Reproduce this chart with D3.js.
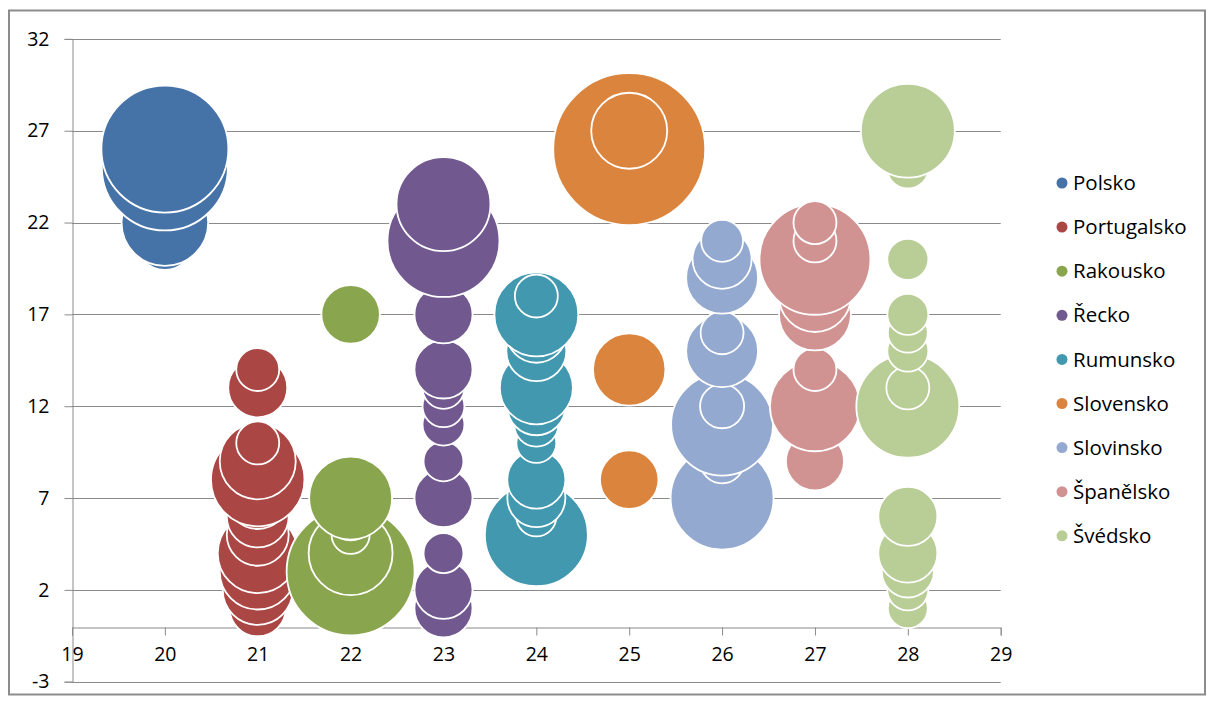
<!DOCTYPE html>
<html>
<head>
<meta charset="utf-8">
<script src="https://cdn.jsdelivr.net/npm/d3@7"></script>
<style>
  html, body { margin: 0; padding: 0; background: #fff; }
  svg { display: block; }
  text { font-family: "Open Sans", "Liberation Sans", sans-serif; fill: #000; }
</style>
</head>
<body>
<svg id="chart" width="1209" height="702"></svg>
<script>
// ---- Data ----
const seriesNames = ["Polsko", "Portugalsko", "Rakousko", "Řecko", "Rumunsko", "Slovensko", "Slovinsko", "Španělsko", "Švédsko"];
const seriesX = [20, 21, 22, 23, 24, 25, 26, 27, 28];

const polskoY = [21, 22, 25, 26];
const polskoSize = [14.6, 32.5, 68.7, 69.8];

const portugalskoY = [1, 2, 3, 4, 5, 6, 7, 8, 9, 10, 13, 14];
const portugalskoSize = [13.6, 21.2, 25.0, 27.7, 16.6, 16.6, 16.6, 37.8, 25.0, 8.0, 15.1, 8.0];

const rakouskoY = [3, 4, 5, 6, 7, 17];
const rakouskoSize = [70.9, 30.5, 6.3, 10.0, 29.8, 14.8];

const reckoY = [1, 2, 4, 7, 9, 11, 12, 13, 14, 17, 21, 23];
const reckoSize = [14.6, 14.6, 6.9, 14.6, 6.9, 7.6, 7.6, 7.6, 14.6, 14.6, 54.3, 38.2];

const rumunskoY = [5, 6, 7, 8, 10, 11, 12, 13, 15, 16, 17, 18];
const rumunskoSize = [45.9, 6.9, 14.6, 14.6, 6.9, 8.4, 14.6, 23.1, 15.6, 15.6, 30.5, 8.0];

const slovenskoY = [8, 14, 26, 27];
const slovenskoSize = [14.8, 22.7, 100, 25.0];

const slovinskoY = [7, 9, 11, 12, 15, 16, 19, 20, 21];
const slovinskoSize = [45.9, 8.4, 45.0, 8.4, 22.4, 8.0, 22.4, 15.1, 7.6];

const spanelskoY = [9, 12, 14, 17, 18, 20, 21, 22];
const spanelskoSize = [14.6, 35.1, 8.0, 22.4, 22.4, 53.3, 8.0, 8.0];

const svedskoY = [1, 2, 3, 4, 6, 12, 13, 15, 16, 17, 20, 25, 27];
const svedskoSize = [6.9, 7.3, 11.7, 15.1, 15.1, 45.9, 8.0, 7.3, 6.9, 7.3, 7.3, 7.6, 38.2];

const xTicks = [19, 20, 21, 22, 23, 24, 25, 26, 27, 28, 29];
const yTicks = [-3, 2, 7, 12, 17, 22, 27, 32];

// ---- Styles ----
const colors = ["#4572A7", "#AA4643", "#89A54E", "#71588F", "#4198AF", "#DB843D", "#93A9CF", "#D19392", "#B9CD96"];
const allY = [polskoY, portugalskoY, rakouskoY, reckoY, rumunskoY, slovenskoY, slovinskoY, spanelskoY, svedskoY];
const allSize = [polskoSize, portugalskoSize, rakouskoSize, reckoSize, rumunskoSize, slovenskoSize, slovinskoSize, spanelskoSize, svedskoSize];

const series = seriesNames.map((name, i) => ({
  name, color: colors[i],
  points: allY[i].map((y, j) => ({ x: seriesX[i], y, size: allSize[i][j] }))
}));

const svg = d3.select("#chart");
const gridColor = "#8a8a8a";
const fmt = d => String(d);

// outer frame
svg.append("rect").attr("x", 9).attr("y", 10.5).attr("width", 1196).attr("height", 684)
  .attr("fill", "none").attr("stroke", "#8c8c8c").attr("stroke-width", 2);

const x = d3.scaleLinear().domain([19, 29]).range([72, 1000.7]);
const y = d3.scaleLinear().domain([-3, 32]).range([681.7, 38.9]);
const r = d3.scaleSqrt().domain([0, 100]).range([0, 76]);

// gridlines
svg.append("g").selectAll("line").data(yTicks).join("line")
  .attr("x1", x(19)).attr("x2", x(29))
  .attr("y1", d => Math.round(y(d)) + 0.5).attr("y2", d => Math.round(y(d)) + 0.5)
  .attr("stroke", gridColor).attr("stroke-width", 1);

// y axis
const yAxis = d3.axisLeft(y).tickValues(yTicks).tickSize(8).tickPadding(15).tickFormat(fmt);
const gy = svg.append("g").attr("transform", `translate(${Math.round(x(19)) + 0.5},0)`).call(yAxis);
gy.select(".domain").attr("stroke", gridColor);
gy.selectAll(".tick line").attr("stroke", gridColor);
gy.selectAll(".tick text").attr("font-size", 19.5).attr("font-family", "'Open Sans', sans-serif").attr("fill", "#000");

// x axis at y = 0
const xAxis = d3.axisBottom(x).tickValues(xTicks).tickSize(8).tickPadding(12).tickFormat(fmt);
const gx = svg.append("g").attr("transform", `translate(0,${Math.round(y(0)) + 0.5})`).call(xAxis);
gx.select(".domain").attr("stroke", gridColor);
gx.selectAll(".tick line").attr("stroke", gridColor);
gx.selectAll(".tick text").attr("font-size", 19.5).attr("font-family", "'Open Sans', sans-serif").attr("fill", "#000");

// bubbles
const gb = svg.append("g");
series.forEach(s => {
  gb.append("g").selectAll("circle").data(s.points).join("circle")
    .attr("cx", d => x(d.x)).attr("cy", d => y(d.y)).attr("r", d => r(d.size))
    .attr("fill", s.color).attr("stroke", "#fff").attr("stroke-width", 1.8);
});

// legend
const lg = svg.append("g");
series.forEach((s, i) => {
  const ly = 183 + i * 44.1;
  lg.append("circle").attr("cx", 1062).attr("cy", ly).attr("r", 5.5).attr("fill", s.color);
  lg.append("text").attr("x", 1073).attr("y", ly).attr("dy", "0.35em")
    .attr("font-size", 20.5).text(s.name);
});
</script>
</body>
</html>
